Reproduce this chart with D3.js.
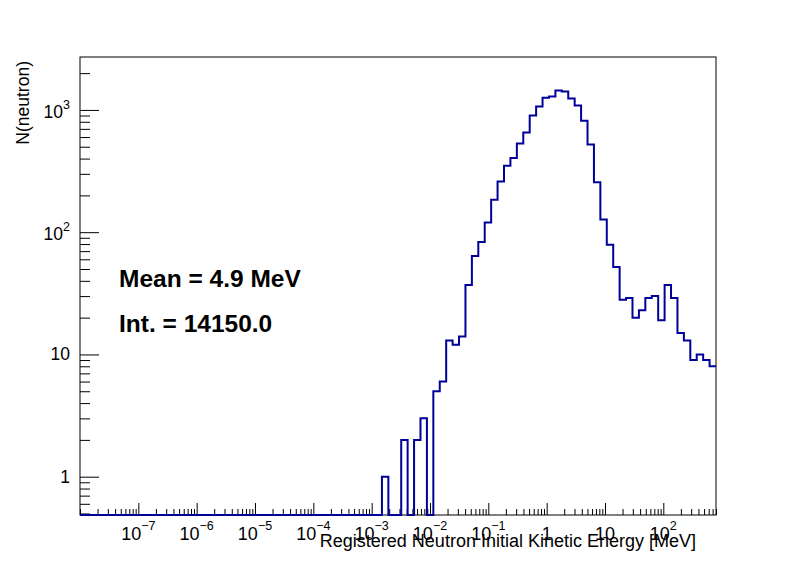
<!DOCTYPE html>
<html>
<head>
<meta charset="utf-8">
<script src="https://cdn.jsdelivr.net/npm/d3@7"></script>
<style>
  body { margin: 0; background: #fff; }
  svg { display: block; }
  text { font-family: "Liberation Sans", Arial, Helvetica, sans-serif; }
</style>
</head>
<body>
<div id="chart"></div>
<script>
// histogram definition: equal log bins
const xLow = 1e-8;
const xHigh = 800;
const binCount = 99;
const firstFilledBin = 47;

// counts per bin, starting at firstFilledBin (all earlier bins are empty)
const counts = [
  1, 0, 0, 2, 0, 2, 3, 0, 5, 6,
  13, 12, 14, 37, 64, 83, 120, 184, 260, 349,
  405, 531, 653, 900, 1066, 1256, 1288, 1442, 1415, 1239,
  1087, 814, 521, 256, 127, 79, 52, 28, 29, 20,
  23, 29, 30, 19, 37, 29, 15, 13, 9, 10,
  9, 8
];

const xMajorTicks = [1e-7, 1e-6, 1e-5, 1e-4, 1e-3, 1e-2, 1e-1, 1, 10, 100];
const xTickLabels = [
  ["10", "\u22127"], ["10", "\u22126"], ["10", "\u22125"], ["10", "\u22124"],
  ["10", "\u22123"], ["10", "\u22122"], ["10", "\u22121"], ["1", ""], ["10", ""], ["10", "2"]
];
const yMajorTicks = [1, 10, 100, 1000];
const yTickLabels = [["1", ""], ["10", ""], ["10", "2"], ["10", "3"]];

const yRange = [0.486, 2710];
const statLines = ["Mean = 4.9 MeV", "Int. = 14150.0"];
const xTitle = "Registered Neutron Initial Kinetic Energy [MeV]";
const yTitle = "N(neutron)";

function minorTicks(domain) {
  const out = [];
  const lo = Math.floor(Math.log10(domain[0]));
  const hi = Math.ceil(Math.log10(domain[1]));
  for (let p = lo; p <= hi; p++) {
    for (let m = 1; m <= 9; m++) {
      const v = m * Math.pow(10, p);
      if (v >= domain[0] && v <= domain[1]) out.push(v);
    }
  }
  return out;
}

function renderChart() {
  const width = 796, height = 572;
  const left = 80, right = 716, top = 57, bottom = 515;

  const svg = d3.select("#chart").append("svg")
    .attr("width", width)
    .attr("height", height);

  const x = d3.scaleLog().domain([xLow, xHigh]).range([left, right]);
  const y = d3.scaleLog().domain(yRange).range([bottom, top]);

  // frame
  svg.append("rect")
    .attr("x", left).attr("y", top)
    .attr("width", right - left).attr("height", bottom - top)
    .attr("fill", "none").attr("stroke", "#000").attr("stroke-width", 1);

  // x axis ticks (inside the frame)
  const xTicks = minorTicks([xLow, xHigh]);
  const xAxis = svg.append("g")
    .attr("transform", `translate(0,${bottom})`)
    .call(d3.axisBottom(x).tickValues(xTicks).tickSizeInner(-12).tickSizeOuter(0).tickFormat(""));
  xAxis.select(".domain").remove();
  xAxis.selectAll(".tick line")
    .attr("y2", d => xMajorTicks.some(t => Math.abs(t - d) / t < 1e-6) ? -12 : -6);

  const yTicks = minorTicks(yRange);
  const yAxis = svg.append("g")
    .attr("transform", `translate(${left},0)`)
    .call(d3.axisLeft(y).tickValues(yTicks).tickSizeInner(-19).tickSizeOuter(0).tickFormat(""));
  yAxis.select(".domain").remove();
  yAxis.selectAll(".tick line")
    .attr("x2", d => yMajorTicks.some(t => Math.abs(t - d) / t < 1e-6) ? 19 : 10);

  // tick labels
  const xl = svg.append("g").selectAll("text")
    .data(xMajorTicks)
    .join("text")
    .attr("x", d => x(d))
    .attr("y", 540)
    .attr("text-anchor", "middle")
    .attr("font-size", 18);
  xl.append("tspan").text((d, i) => xTickLabels[i][0]);
  xl.filter((d, i) => xTickLabels[i][1] !== "")
    .append("tspan")
    .attr("dy", -10)
    .attr("font-size", 12.5)
    .text(d => xTickLabels[xMajorTicks.indexOf(d)][1]);

  const yl = svg.append("g").selectAll("text")
    .data(yMajorTicks)
    .join("text")
    .attr("x", 70)
    .attr("y", (d, i) => y(d) + (yTickLabels[i][1] ? 8 : 6))
    .attr("text-anchor", "end")
    .attr("font-size", 17.5);
  yl.append("tspan").text((d, i) => yTickLabels[i][0]);
  yl.filter((d, i) => yTickLabels[i][1] !== "")
    .append("tspan")
    .attr("dy", -9)
    .attr("font-size", 12.5)
    .text(d => yTickLabels[yMajorTicks.indexOf(d)][1]);

  // axis titles
  svg.append("text")
    .attr("x", 696).attr("y", 547)
    .attr("text-anchor", "end")
    .attr("font-size", 18)
    .text(xTitle);

  svg.append("text")
    .attr("transform", "translate(28.5,61) rotate(-90)")
    .attr("text-anchor", "end")
    .attr("font-size", 17.5)
    .text(yTitle);

  // histogram outline
  const edge = i => xLow * Math.pow(xHigh / xLow, i / binCount);
  const pts = [];
  for (let i = 0; i < binCount; i++) {
    const j = i - firstFilledBin;
    const c = j >= 0 && j < counts.length ? counts[j] : 0;
    const yy = c > 0 ? y(c) : bottom;
    pts.push([x(edge(i)), yy], [x(edge(i + 1)), yy]);
  }
  svg.append("path")
    .attr("d", d3.line()(pts))
    .attr("fill", "none")
    .attr("stroke", "#000099")
    .attr("stroke-width", 2);

  // stats text
  svg.append("g").selectAll("text")
    .data(statLines)
    .join("text")
    .attr("x", 119)
    .attr("y", (d, i) => 286.5 + i * 45)
    .attr("font-size", 24.5)
    .attr("font-weight", "bold")
    .text(d => d);
}

renderChart();
</script>
</body>
</html>
